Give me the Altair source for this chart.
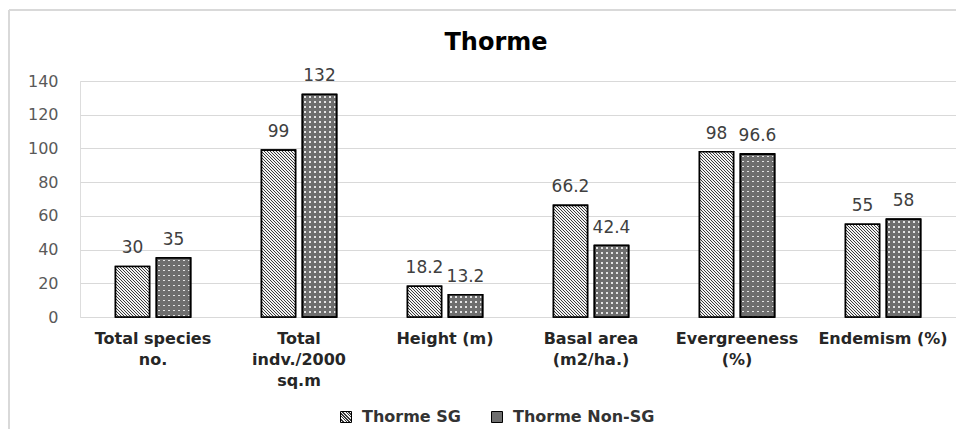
import json
import altair as alt

# ---------------- data ----------------
categories = [
    "Total species\nno.",
    "Total\nindv./2000\nsq.m",
    "Height (m)",
    "Basal area\n(m2/ha.)",
    "Evergreeness\n(%)",
    "Endemism (%)",
]
series_names = ["Thorme SG", "Thorme Non-SG"]
sg_values = [30, 99, 18.2, 66.2, 98, 55]
nonsg_values = [35, 132, 13.2, 42.4, 96.6, 58]
y_ticks = [0, 20, 40, 60, 80, 100, 120, 140]

# ---------------- layout / style ----------------
W, H = 876, 236
Y_MAX = 140
BAR_W = 34.0
FONT = "DejaVu Sans"

HATCH_DARK = "#3a3a3a"
HATCH_LIGHT = "#f2f2f2"
DOT_BASE = "#6e6e6e"
DOT_LIGHT = "#e4e4e4"


def hatch_gradient(w, h, period=3.0, dark=1.4):
    """Diagonal ('\\') stripes at 45 degrees for a w x h pixel box."""
    L = w + h
    k = L / (w * w + h * h)
    stops = []
    x = 0.0
    while x < L:
        a = round(x / L, 5)
        b = round(min((x + dark) / L, 1.0), 5)
        stops += [
            {"offset": a, "color": HATCH_LIGHT},
            {"offset": a, "color": HATCH_DARK},
            {"offset": b, "color": HATCH_DARK},
            {"offset": b, "color": HATCH_LIGHT},
        ]
        x += period
    return {"gradient": "linear", "x1": 0, "y1": 1,
            "x2": round(w * k, 6), "y2": round(1 - h * k, 6), "stops": stops}


def stripe_gradient(length, base, light, vertical, period=5.0, size=1.6, start=1.7):
    stops = []
    x = start
    while x < length:
        a = round(x / length, 5)
        b = round(min((x + size) / length, 1.0), 5)
        stops += [
            {"offset": a, "color": base},
            {"offset": a, "color": light},
            {"offset": b, "color": light},
            {"offset": b, "color": base},
        ]
        x += period
    g = {"gradient": "linear", "x1": 0, "y1": 0, "stops": stops}
    if vertical:
        g.update({"x2": 0, "y2": 1})
    else:
        g.update({"x2": 1, "y2": 0})
    return g


records = []
for cat, v_sg, v_ns in zip(categories, sg_values, nonsg_values):
    for name, v in ((series_names[0], v_sg), (series_names[1], v_ns)):
        h = v / Y_MAX * H
        if name == series_names[0]:
            fa = hatch_gradient(BAR_W, h)
            fb = None
        else:
            fa = stripe_gradient(BAR_W, DOT_BASE, DOT_LIGHT, vertical=False)
            fb = stripe_gradient(h, DOT_BASE, "rgba(0,0,0,0)", vertical=True)
        rec = {"category": cat, "series": name, "value": v, "fa": fa}
        if fb is not None:
            rec["fb"] = fb
        records.append(rec)

data = alt.Data(values=records)

legend_sg = hatch_gradient(11, 11, period=3.0, dark=1.3)
legend_expr = json.dumps(legend_sg)

x_enc = alt.X(
    "category:N",
    sort=categories,
    scale=alt.Scale(paddingInner=1 - 75 / (W / 6), paddingOuter=(1 - 75 / (W / 6)) / 2),
    axis=alt.Axis(
        title=None,
        labelAngle=0,
        labelExpr="split(datum.value, '\\n')",
        labelFont=FONT,
        labelFontSize=16,
        labelFontWeight="bold",
        labelColor="#262626",
        labelLineHeight=21,
        labelPadding=13,
        labelLimit=300,
        ticks=False,
        domain=False,
        grid=False,
    ),
)
xoff_enc = alt.XOffset(
    "series:N",
    sort=series_names,
    scale=alt.Scale(domain=series_names, paddingInner=7 / 41, paddingOuter=0),
)
y_enc = alt.Y(
    "value:Q",
    scale=alt.Scale(domain=[0, Y_MAX], nice=False),
    axis=alt.Axis(
        title=None,
        values=y_ticks,
        labelFont=FONT,
        labelFontSize=16,
        labelColor="#595959",
        labelPadding=22,
        ticks=False,
        domain=False,
        grid=True,
        gridColor="#d9d9d9",
        gridWidth=1,
    ),
)

base = alt.Chart(data)

legend_layer = base.mark_bar(stroke="black", strokeWidth=1.6).encode(
    x=x_enc,
    xOffset=xoff_enc,
    y=y_enc,
    color=alt.Color(
        "series:N",
        scale=alt.Scale(domain=series_names, range=[alt.ExprRef(legend_expr), DOT_BASE]),
        legend=alt.Legend(
            title=None,
            orient="none",
            direction="horizontal",
            legendX=258,
            legendY=328,
            symbolType="square",
            symbolSize=121,
            symbolStrokeColor="black",
            symbolStrokeWidth=1,
            labelFont=FONT,
            labelFontSize=16,
            labelFontWeight="bold",
            labelColor="#333333",
            labelOffset=8,
            columnPadding=28,
        ),
    ),
)

fill_layer = base.mark_bar(stroke="black", strokeWidth=1.6).encode(
    x=x_enc,
    xOffset=xoff_enc,
    y=y_enc,
    fill=alt.Fill("fa:N", scale=None),
)

dots_layer = base.transform_filter(
    alt.datum.series == series_names[1]
).mark_bar(stroke="black", strokeWidth=1.6).encode(
    x=x_enc,
    xOffset=xoff_enc,
    y=y_enc,
    fill=alt.Fill("fb:N", scale=None),
)

text_layer = base.mark_text(
    font=FONT, fontSize=17, color="#404040", baseline="alphabetic", dy=-13
).encode(
    x=x_enc,
    xOffset=xoff_enc,
    y=y_enc,
    text=alt.Text("value:Q", format=".4~g"),
)

frame_data = alt.Data(values=[{"k": 1}])
top_border = alt.Chart(frame_data).mark_rule(color="#d9d9d9", strokeWidth=2).encode(
    x=alt.value(-71), x2=alt.value(W), y=alt.value(-71)
)
left_border = alt.Chart(frame_data).mark_rule(color="#d9d9d9", strokeWidth=2).encode(
    x=alt.value(-71), y=alt.value(-71), y2=alt.value(H + 112)
)

chart = alt.layer(
    legend_layer, fill_layer, dots_layer, text_layer, top_border, left_border
).properties(
    width=W,
    height=H,
    title=alt.TitleParams(
        "Thorme",
        font=FONT,
        fontSize=24,
        fontWeight="bold",
        color="#000000",
        anchor="middle",
        baseline="alphabetic",
        dx=-22,
        dy=65,
        offset=0,
    ),
    autosize=alt.AutoSizeParams(type="none"),
    padding={"left": 72, "top": 73, "right": 0, "bottom": 112},
).configure_view(stroke=None).configure(background="white")

chart.save("out.html", embed_options={"renderer": "svg", "actions": False})
